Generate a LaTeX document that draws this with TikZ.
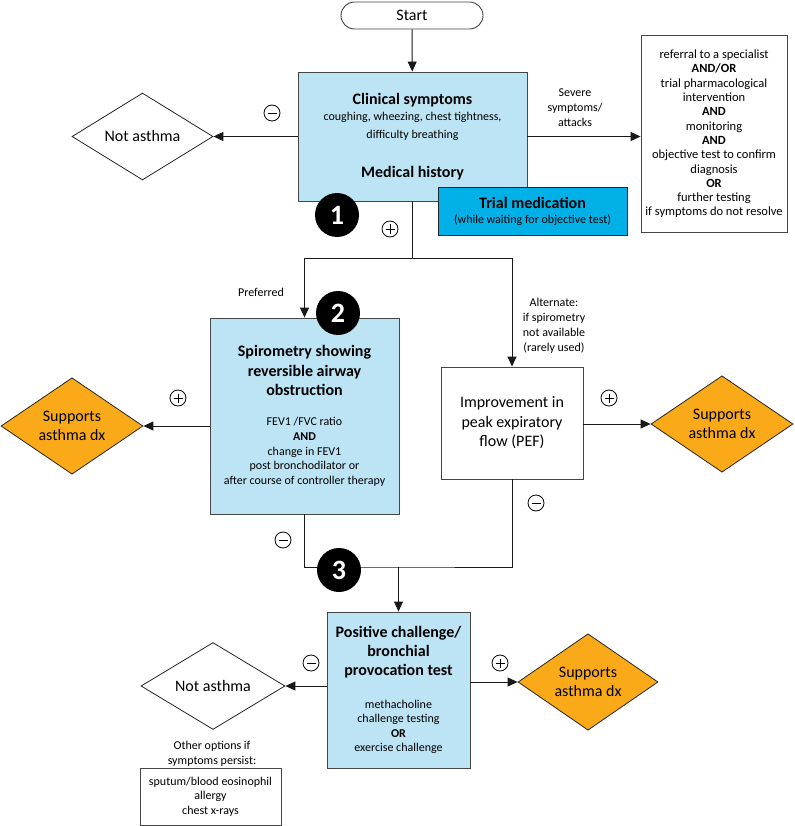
\documentclass[tikz,border=0pt]{standalone}
\usepackage{fontspec}
\setmainfont{Carlito}
\usetikzlibrary{arrows.meta,shapes.geometric}
\definecolor{lblue}{RGB}{189,228,245}
\definecolor{tblue}{RGB}{0,176,230}
\definecolor{orng}{RGB}{250,170,25}
\definecolor{bord}{RGB}{70,70,70}
\newcommand\fsz[2]{\fontsize{#1}{#2}\selectfont}
\begin{document}
\begin{tikzpicture}[x=1pt,y=-1pt,
  box/.style={draw=bord,line width=0.9pt,inner sep=0pt,align=center,font=\fsz{12}{15}},
  bluebox/.style={box,fill=lblue},
  dia/.style={diamond,draw=black!85,line width=0.8pt,inner sep=0pt,align=center,font=\fsz{16}{19}},
  supp/.style={dia,fill=orng},
  lab/.style={inner sep=0pt,align=center,font=\fsz{12}{15}},
  num/.style={circle,fill=black,minimum size=44pt,inner sep=0pt,text=white,font=\fsz{28}{28}\bfseries},
  sgn/.style={circle,draw=black,line width=0.8pt,minimum size=16pt,inner sep=0pt},
  plus/.style={sgn,path picture={\draw[line width=0.8pt] ([xshift=-4.5pt]path picture bounding box.center)--([xshift=4.5pt]path picture bounding box.center) ([yshift=-4.5pt]path picture bounding box.center)--([yshift=4.5pt]path picture bounding box.center);}},
  minus/.style={sgn,path picture={\draw[line width=0.8pt] ([xshift=-4.5pt]path picture bounding box.center)--([xshift=4.5pt]path picture bounding box.center);}},
  conn/.style={draw=black!90,line width=0.9pt},
  arr/.style={conn,-{Triangle[length=10pt,width=9pt]}}
]
\useasboundingbox[fill=white] (0,0) rectangle (794,826);

% nodes
\node[box,rounded corners=13.5pt,minimum width=142pt,minimum height=27pt,font=\fsz{16}{16}] (start) at (412,15.5) {Start};

\node[bluebox,minimum width=229pt,minimum height=129pt,font=\fsz{12}{18}] (clin) at (412.5,136.5)
  {{\fsz{16}{18}\bfseries Clinical symptoms}\\[-2pt]
   coughing, wheezing, chest tightness,\\
   difficulty breathing\\[21pt]
   {\fsz{16}{18}\bfseries Medical history}};

\node[box,minimum width=146pt,minimum height=197pt,font=\fsz{12.5}{14.3}] (ref) at (714,134)
  {referral to a specialist\\
   \textbf{AND/OR}\\
   trial pharmacological\\
   intervention\\
   \textbf{AND}\\
   monitoring\\
   \textbf{AND}\\
   objective test to confirm\\
   diagnosis\\
   \textbf{OR}\\
   further testing\\
   if symptoms do not resolve};

\node[lab] (sev) at (575,108) {Severe\\symptoms/\\attacks};

\node[dia,fill=white,minimum width=141pt,minimum height=85pt] (na1) at (142.5,136.5) {Not asthma};

\node[bluebox,minimum width=189pt,minimum height=196pt,font=\fsz{12}{14.75}] (spiro) at (304.5,416)
  {{\fsz{16}{16}\bfseries Spirometry showing}\\[4.75pt]
   {\fsz{16}{16}\bfseries reversible airway}\\[4.75pt]
   {\fsz{16}{16}\bfseries obstruction}\\[15pt]
   FEV1 /FVC ratio\\
   \textbf{AND}\\
   change in FEV1\\
   post bronchodilator or\\
   after course of controller therapy};

\node[box,minimum width=142pt,minimum height=112pt,font=\fsz{16}{19.5}] (pef) at (512,423)
  {Improvement in\\peak expiratory\\flow (PEF)};

\node[supp,minimum width=142pt,minimum height=86pt] (sup1) at (72,426) {Supports\\asthma dx};
\node[supp,minimum width=142pt,minimum height=86pt] (sup2) at (722,424) {Supports\\asthma dx};

\node[lab] (pref) at (261,292) {Preferred};
\node[lab] (alt) at (554,325.5) {Alternate:\\if spirometry\\not available\\(rarely used)};

\node[bluebox,minimum width=143pt,minimum height=156pt,font=\fsz{12}{14.5}] (bron) at (398.5,690)
  {{\fsz{16}{16}\bfseries Positive challenge/}\\[4.5pt]
   {\fsz{16}{16}\bfseries bronchial}\\[4.5pt]
   {\fsz{16}{16}\bfseries provocation test}\\[18pt]
   methacholine\\
   challenge testing\\
   \textbf{OR}\\
   exercise challenge};

\node[dia,fill=white,minimum width=144pt,minimum height=86pt] (na2) at (213,686) {Not asthma};
\node[supp,minimum width=140pt,minimum height=86pt] (sup3) at (588,682) {Supports\\asthma dx};

\node[lab,font=\fsz{12}{14.5}] (other) at (212,754) {Other options if\\symptoms persist:};
\node[box,minimum width=141pt,minimum height=57pt,font=\fsz{12}{14.5}] (opts) at (210.5,796.5)
  {sputum/blood eosinophil\\allergy\\chest x-rays};

% junction coordinates
\coordinate (j1) at (412.5,258);
\coordinate (j3) at (398.5,567);

% connectors
\draw[arr] (start) -- (clin);
\draw[arr] (clin.west) -- (na1.east);
\draw[arr] (clin.east) -- (clin.east -| ref.west);
\draw[conn] (clin.south) -- (j1);
\draw[arr] (j1) -| (spiro.north);
\draw[arr] (j1) -| (pef.north);
\draw[arr] (sup1.east -| spiro.west) -- (sup1.east);
\draw[arr] (sup2.west -| pef.east) -- (sup2.west);
\draw[conn] (spiro.south) |- (j3) -| (pef.south);
\draw[arr] (j3) -- (bron.north);
\draw[arr] (na2.east -| bron.west) -- (na2.east);
\draw[arr] (sup3.west -| bron.east) -- (sup3.west);

% trial medication, on top of the clinical box
\node[box,fill=tblue,draw=black!85,minimum width=189pt,minimum height=48pt] (trial) at (532.5,211)
  {{\fsz{16}{16}\bfseries Trial medication}\\
   (while waiting for objective test)};

% numbered steps
\node[num] (n1) at (337,215) {1};
\node[num] (n2) at (338,313) {2};
\node[num] (n3) at (339,570) {3};

% signs
\node[minus] (s1) at (272,113) {};
\node[plus] (s2) at (390,229) {};
\node[plus] (s3) at (178,398) {};
\node[plus] (s4) at (609,398) {};
\node[minus] (s5) at (536,503) {};
\node[minus] (s6) at (283,540) {};
\node[minus] (s7) at (311,663) {};
\node[plus] (s8) at (500,663) {};
\end{tikzpicture}
\end{document}
